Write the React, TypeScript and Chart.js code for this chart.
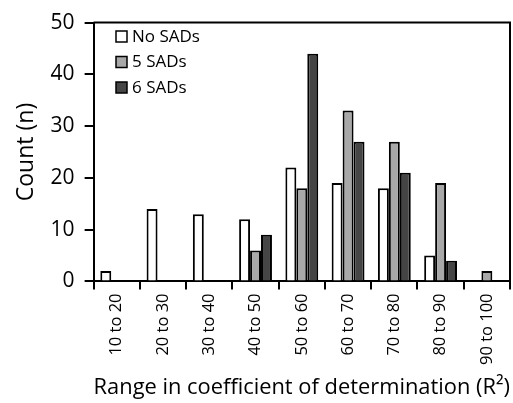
import React, { useEffect, useRef } from "react";
import { Chart, registerables } from "chart.js";

Chart.register(...registerables);

const categories = ["10 to 20", "20 to 30", "30 to 40", "40 to 50", "50 to 60", "60 to 70", "70 to 80", "80 to 90", "90 to 100"];
const noSADs = [2, 14, 13, 12, 22, 19, 18, 5, null];
const fiveSADs = [null, null, null, 6, 18, 33, 27, 19, 2];
const sixSADs = [null, null, null, 9, 44, 27, 21, 4, null];
const yTicks = [0, 10, 20, 30, 40, 50];

const FONT = "'Open Sans', 'Noto Sans', sans-serif";

const frameAndLegend = {
  id: "frameAndLegend",
  afterDraw(chart: any) {
    const { ctx, chartArea } = chart;
    ctx.save();
    ctx.strokeStyle = "#000";
    ctx.lineWidth = 2;
    ctx.beginPath();
    ctx.moveTo(chartArea.left, chartArea.top);
    ctx.lineTo(chartArea.right, chartArea.top);
    ctx.lineTo(chartArea.right, chartArea.bottom);
    ctx.stroke();
    // legend
    const x0 = 116;
    const y0 = 31;
    const step = 25.5;
    chart.data.datasets.forEach((ds: any, i: number) => {
      const y = y0 + i * step;
      ctx.fillStyle = ds.backgroundColor;
      ctx.fillRect(x0, y, 11, 11);
      ctx.lineWidth = 1.5;
      ctx.strokeStyle = "#000";
      ctx.strokeRect(x0, y, 11, 11);
      ctx.fillStyle = "#000";
      ctx.font = `17px ${FONT}`;
      ctx.textBaseline = "middle";
      ctx.textAlign = "left";
      ctx.fillText(ds.label, x0 + 16, y + 6);
    });
    ctx.restore();
  },
};

export default function App() {
  const ref = useRef<HTMLCanvasElement>(null);
  useEffect(() => {
    document.body.style.margin = "0";
    const chart = new Chart(ref.current!, {
      type: "bar",
      data: {
        labels: categories,
        datasets: [
          { label: "No SADs", data: noSADs, backgroundColor: "#ffffff", borderColor: "#000", borderWidth: 2 },
          { label: "5 SADs", data: fiveSADs, backgroundColor: "#a8a8a8", borderColor: "#000", borderWidth: 2 },
          { label: "6 SADs", data: sixSADs, backgroundColor: "#454545", borderColor: "#000", borderWidth: 2 },
        ],
      },
      options: {
        animation: false,
        responsive: false,
        layout: { padding: { top: 10, right: 3, left: 13, bottom: 2 } },
        datasets: { bar: { barPercentage: 1, categoryPercentage: 0.71 } },
        plugins: { legend: { display: false }, tooltip: { enabled: false } },
        scales: {
          x: {
            grid: { drawOnChartArea: false, drawTicks: true, tickLength: 8, color: "#000", lineWidth: 2, offset: true },
            border: { display: true, color: "#000", width: 2 },
            ticks: { color: "#000", font: { family: FONT, size: 16.5 }, maxRotation: 90, minRotation: 90, padding: 4 },
            title: { display: true, text: "Range in coefficient of determination (R²)", color: "#000", font: { family: FONT, size: 22.5 }, padding: { top: 5, bottom: 0 } },
          },
          y: {
            min: 0,
            max: 50,
            afterBuildTicks: (axis: any) => {
              axis.ticks = yTicks.map((v) => ({ value: v }));
            },
            grid: { drawOnChartArea: false, drawTicks: true, tickLength: 9, color: "#000", lineWidth: 2 },
            border: { display: true, color: "#000", width: 2 },
            ticks: { color: "#000", font: { family: FONT, size: 21 }, padding: 10 },
            title: { display: true, text: "Count (n)", color: "#000", font: { family: FONT, size: 23 }, padding: { top: 0, bottom: 0 } },
          },
        },
      },
      plugins: [frameAndLegend],
    });
    return () => chart.destroy();
  }, []);
  return <canvas ref={ref} width={513} height={403} />;
}
